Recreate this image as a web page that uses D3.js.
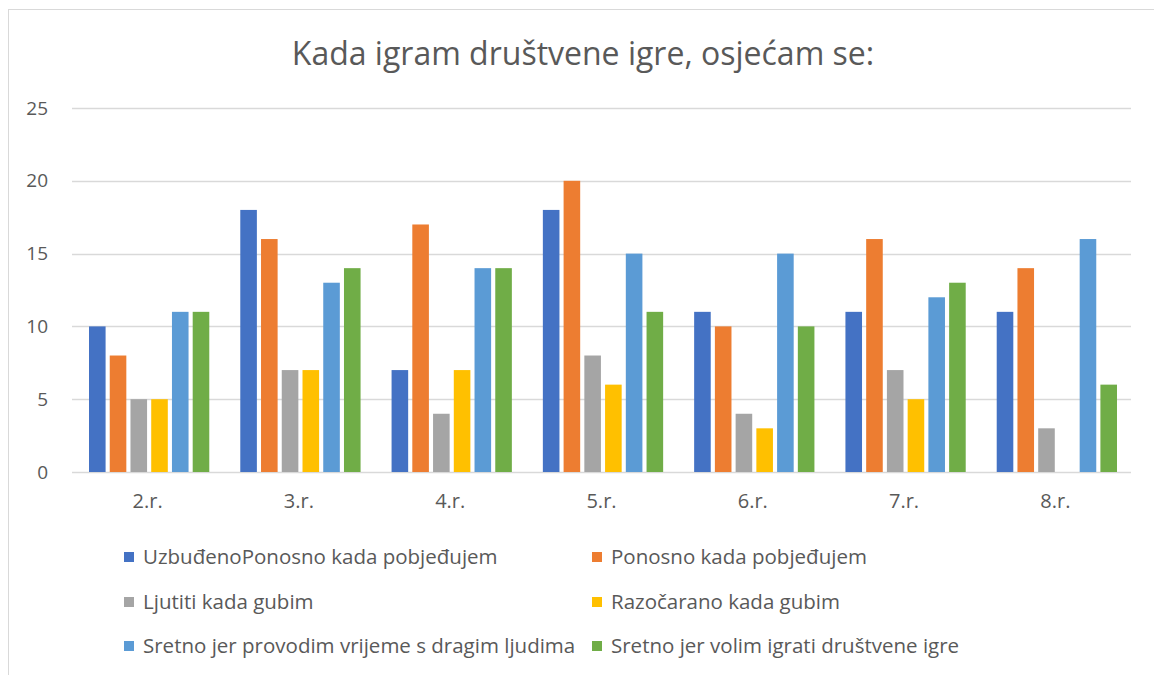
<!DOCTYPE html>
<html>
<head>
<meta charset="utf-8">
<script src="https://cdn.jsdelivr.net/npm/d3@7"></script>
<style>
  body { margin: 0; background: #fff; }
  text { font-family: "Open Sans", "Liberation Sans", sans-serif; fill: #595959; }
</style>
</head>
<body>
<div class="chart"></div>
<script>
const categories = ["2.r.", "3.r.", "4.r.", "5.r.", "6.r.", "7.r.", "8.r."];
const seriesNames = [
  "UzbuđenoPonosno kada pobjeđujem",
  "Ponosno kada pobjeđujem",
  "Ljutiti kada gubim",
  "Razočarano kada gubim",
  "Sretno jer provodim vrijeme s dragim ljudima",
  "Sretno jer volim igrati društvene igre"
];
const uzbudeno = [10, 18, 7, 18, 11, 11, 11];
const ponosno = [8, 16, 17, 20, 10, 16, 14];
const ljutiti = [5, 7, 4, 8, 4, 7, 3];
const razocarano = [5, 7, 7, 6, 3, 5, null];
const sretnoLjudi = [11, 13, 14, 15, 15, 12, 16];
const sretnoIgre = [11, 14, 14, 11, 10, 13, 6];
const yTicks = [0, 5, 10, 15, 20, 25];
const colors = ["#4472C4", "#ED7D31", "#A5A5A5", "#FFC000", "#5B9BD5", "#70AD47"];

const seriesValues = [uzbudeno, ponosno, ljutiti, razocarano, sretnoLjudi, sretnoIgre];
const w = 1154, h = 675;
const margin = { top: 108, bottom: 203, left: 72, right: 23 };

const svg = d3.select(".chart").append("svg")
  .attr("width", w)
  .attr("height", h);

// chart border
svg.append("rect")
  .attr("x", 8.5).attr("y", 9.5)
  .attr("width", w + 10).attr("height", h + 10)
  .attr("fill", "none")
  .attr("stroke", "#D9D9D9");

svg.append("text")
  .attr("x", 583)
  .attr("y", 65)
  .attr("text-anchor", "middle")
  .style("font-size", "32px")
  .text("Kada igram društvene igre, osjećam se:");

const xScale = d3.scaleBand()
  .domain(categories)
  .range([margin.left, w - margin.right])
  .paddingInner(0).paddingOuter(0);

const x1 = d3.scaleBand()
  .domain(d3.range(seriesNames.length))
  .range([17, xScale.bandwidth() - 14])
  .paddingInner(0.2);

const yScale = d3.scaleLinear()
  .domain([0, 25])
  .range([h - margin.bottom, margin.top]);

// gridlines
svg.append("g")
  .selectAll("line")
  .data(yTicks)
  .enter()
  .append("line")
  .attr("x1", margin.left)
  .attr("x2", w - margin.right)
  .attr("y1", d => Math.round(yScale(d)) + 0.5)
  .attr("y2", d => Math.round(yScale(d)) + 0.5)
  .attr("stroke", "#D9D9D9")
  .attr("stroke-width", 1.5);

const yAxis = d3.axisLeft(yScale).tickValues(yTicks).tickSize(0).tickPadding(24);
svg.append("g")
  .attr("id", "y-axis")
  .attr("transform", `translate(${margin.left}, 0)`)
  .call(yAxis)
  .call(g => g.select(".domain").remove())
  .selectAll("text")
  .style("font-size", "19px")
  .attr("fill", "#595959");

const xAxis = d3.axisBottom(xScale).tickSize(0).tickPadding(22);
svg.append("g")
  .attr("id", "x-axis")
  .attr("transform", `translate(0, ${h - margin.bottom})`)
  .call(xAxis)
  .call(g => g.select(".domain").remove())
  .selectAll("text")
  .style("font-size", "20px")
  .attr("fill", "#595959");

// bars
const groups = svg.append("g")
  .selectAll("g")
  .data(categories)
  .enter()
  .append("g")
  .attr("transform", d => `translate(${xScale(d)}, 0)`);

groups.selectAll("rect")
  .data((d, i) => seriesValues.map((s, j) => ({ j: j, v: s[i] })).filter(o => o.v != null))
  .enter()
  .append("rect")
  .attr("x", d => x1(d.j))
  .attr("y", d => yScale(d.v))
  .attr("width", x1.bandwidth())
  .attr("height", d => yScale(0) - yScale(d.v))
  .attr("fill", d => colors[d.j]);

// legend
const legendX = [124, 592];
const legendY = [557, 602, 646];
const legend = svg.append("g")
  .selectAll("g")
  .data(seriesNames)
  .enter()
  .append("g")
  .attr("transform", (d, i) => `translate(${legendX[i % 2]}, ${legendY[Math.floor(i / 2)]})`);

legend.append("rect")
  .attr("x", 0).attr("y", -5)
  .attr("width", 10).attr("height", 10)
  .attr("fill", (d, i) => colors[i]);

legend.append("text")
  .attr("x", 19)
  .attr("y", 0)
  .attr("dy", "0.35em")
  .style("font-size", "20.5px")
  .text(d => d);
</script>
</body>
</html>
